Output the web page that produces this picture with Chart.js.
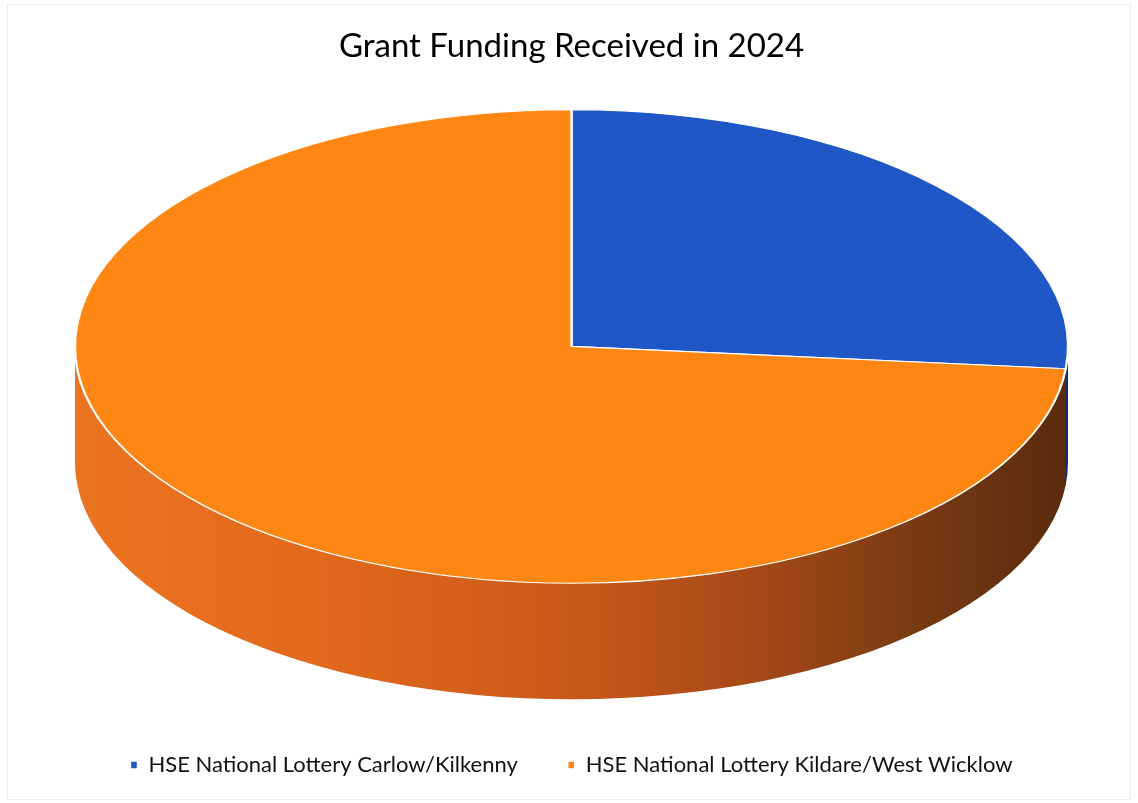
<!DOCTYPE html>
<html>
<head>
<meta charset="utf-8">
<title>Grant Funding Received in 2024</title>
<script src="https://cdn.jsdelivr.net/npm/chart.js@4.4.1/dist/chart.umd.min.js"></script>
<style>
  html, body { margin: 0; padding: 0; background: #fff; }
  #wrap { width: 1138px; height: 803px; position: relative; }
</style>
</head>
<body>
<div id="wrap"><canvas id="grantPie"></canvas></div>
<script>
const grantSources = ['HSE National Lottery Carlow/Kilkenny', 'HSE National Lottery Kildare/West Wicklow'];
const grantShares = [26.5, 73.5];   // % of total funding

const TILT = 0.477;   // height / width of the top face
const DEPTH = 116;    // thickness of the pie, px

// where the flat circle from Chart.js ends up as a tilted ellipse
function faceTransform(chart) {
  const area = chart.chartArea;
  const arc = chart.getDatasetMeta(0).data[0];
  const rx = (area.right - area.left) / 2;
  const ry = rx * TILT;
  return {
    cx: (area.left + area.right) / 2,
    cy: area.top + ry,
    sx: rx / arc.outerRadius,
    sy: ry / arc.outerRadius,
    ox: arc.x,
    oy: arc.y
  };
}

function applyFace(ctx, f, dy) {
  ctx.translate(f.cx, f.cy + dy);
  ctx.scale(f.sx, f.sy);
  ctx.translate(-f.ox, -f.oy);
}

const sideShades = [
  [[0, '#2a5fc4'], [1, '#0f2f70']],
  [[0, '#eb7420'], [0.25, '#e2681c'], [0.5, '#c9591a'], [0.7, '#a24816'], [0.85, '#773a13'], [1, '#5a2a0d']]
];

const pie3d = {
  id: 'pie3d',
  beforeDatasetsDraw(chart) {
    const ctx = chart.ctx;
    const area = chart.chartArea;
    const f = faceTransform(chart);
    const arcs = chart.getDatasetMeta(0).data;

    // side wall: each slice stacked downwards, filled as one shape
    arcs.forEach((arc, i) => {
      ctx.save();
      ctx.beginPath();
      for (let k = DEPTH; k >= 1; k--) {
        ctx.save();
        applyFace(ctx, f, k);
        ctx.moveTo(arc.x, arc.y);
        ctx.arc(arc.x, arc.y, arc.outerRadius, arc.startAngle, arc.endAngle);
        ctx.closePath();
        ctx.restore();
      }
      const g = ctx.createLinearGradient(area.left, 0, area.right, 0);
      sideShades[i].forEach(s => g.addColorStop(s[0], s[1]));
      ctx.fillStyle = g;
      ctx.fill();
      ctx.restore();
    });

    // top face is drawn by Chart.js itself, squashed into the ellipse
    ctx.save();
    applyFace(ctx, f, 0);
  },
  afterDatasetsDraw(chart) {
    chart.ctx.restore();
  }
};

const frame = {
  id: 'frame',
  beforeDraw(chart) {
    const ctx = chart.ctx;
    ctx.save();
    ctx.fillStyle = '#ffffff';
    ctx.fillRect(0, 0, chart.width, chart.height);
    ctx.strokeStyle = '#ececec';
    ctx.lineWidth = 1;
    ctx.strokeRect(7.5, 4.5, chart.width - 15, chart.height - 8);
    ctx.restore();
  }
};

new Chart(document.getElementById('grantPie'), {
  type: 'pie',
  data: {
    labels: grantSources,
    datasets: [{
      data: grantShares,
      backgroundColor: ['#1f57c7', '#fd8712'],
      borderColor: '#ffffff',
      borderWidth: 1.4
    }]
  },
  options: {
    responsive: true,
    maintainAspectRatio: false,
    animation: false,
    layout: { padding: { left: 75, right: 70, top: 0, bottom: 17 } },
    plugins: {
      title: {
        display: true,
        text: 'Grant Funding Received in 2024',
        color: '#000000',
        font: { family: 'Lato', size: 33, weight: 'normal' },
        padding: { top: 27, bottom: 43 }
      },
      legend: {
        position: 'bottom',
        labels: {
          usePointStyle: true,
          pointStyle: 'rect',
          pointStyleWidth: 7,
          boxWidth: 7,
          boxHeight: 8,
          padding: 50,
          color: '#111111',
          font: { family: 'Lato', size: 22 }
        }
      },
      tooltip: { enabled: false }
    }
  },
  plugins: [pie3d, frame]
});
</script>
</body>
</html>
